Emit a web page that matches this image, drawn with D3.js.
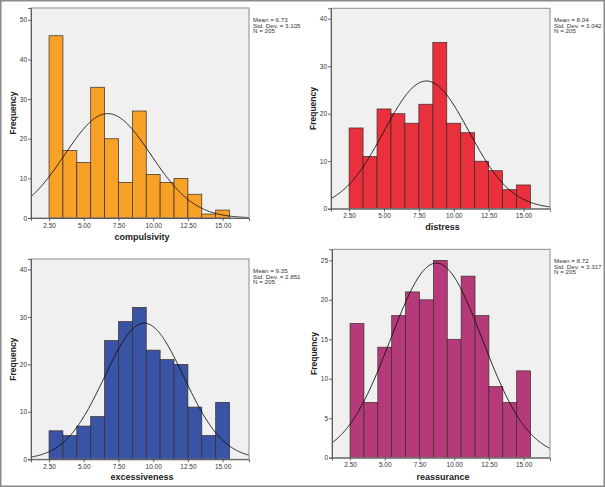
<!DOCTYPE html>
<html><head><meta charset="utf-8">
<script src="https://cdn.jsdelivr.net/npm/d3@7"></script>
<style>body{margin:0;background:#fff}svg{display:block;font-family:"Liberation Sans",Arial,sans-serif}</style>
</head><body><svg id="c" width="605" height="487"></svg>
<script>
// Data (bins of width 1, starting at 2.5)
const binStarts = [2.5,3.5,4.5,5.5,6.5,7.5,8.5,9.5,10.5,11.5,12.5,13.5,14.5];
const compulsivity = [46,17,14,33,20,9,27,11,9,10,6,1,2];
const distress = [17,11,21,20,18,22,35,18,16,10,8,4,5];
const excessiveness = [6,5,7,9,25,29,32,23,21,20,11,5,12];
const reassurance = [17,7,14,18,21,20,25,15,23,18,9,7,11];
const names = ["compulsivity","distress","excessiveness","reassurance"];
const means = [6.73, 8.04, 9.35, 8.72];
const sds = [3.105, 3.042, 2.851, 3.317];
const nObs = [205, 205, 205, 205];
const xTicks = [2.5,5,7.5,10,12.5,15];
const yTicksList = [[0,10,20,30,40,50],[0,10,20,30,40],[0,10,20,30,40],[0,5,10,15,20,25]];
const yMax = [53, 42.2, 42.2, 26.4];
const colors = ["#F7A126","#E8313C","#3A54A5","#B53A79"];
const series = [compulsivity, distress, excessiveness, reassurance];

// layout
const boxes = [
  {x0:31,x1:249,y0:8,y1:218,ly:239.5},
  {x0:331,x1:550,y0:8.3,y1:208.7,ly:229.5},
  {x0:31,x1:249,y0:259,y1:459.3,ly:480},
  {x0:332,x1:550,y0:249.3,y1:457.7,ly:480}
];
const svg = d3.select("#c");
svg.append("rect").attr("x",0.75).attr("y",0.75).attr("width",603.5).attr("height",485.5)
  .attr("fill","#fff").attr("stroke","#8a8a8a").attr("stroke-width",1.5);

series.forEach((vals,i)=>{
  const b = boxes[i];
  const x = d3.scaleLinear().domain([1.2,16.9]).range([b.x0,b.x1]);
  const y = d3.scaleLinear().domain([0,yMax[i]]).range([b.y1,b.y0]);
  const g = svg.append("g");
  const cid = "clip"+i;
  g.append("clipPath").attr("id",cid).append("rect")
    .attr("x",b.x0).attr("y",b.y0).attr("width",b.x1-b.x0).attr("height",b.y1-b.y0);
  g.append("rect").attr("x",b.x0).attr("y",b.y0).attr("width",b.x1-b.x0).attr("height",b.y1-b.y0)
    .attr("fill","#f0f0f0");
  g.selectAll("rect.bar").data(vals).join("rect").attr("class","bar")
    .attr("x",(d,j)=>x(binStarts[j])).attr("width",(d,j)=>x(binStarts[j]+1)-x(binStarts[j]))
    .attr("y",d=>y(d)).attr("height",d=>y(0)-y(d))
    .attr("fill",colors[i]).attr("stroke","#3b2a2a").attr("stroke-width",0.7);
  const pts = d3.range(1.2,16.95,0.05);
  const pdf = v => nObs[i]*1/(sds[i]*Math.sqrt(2*Math.PI))*Math.exp(-0.5*Math.pow((v-means[i])/sds[i],2));
  g.append("path").datum(pts).attr("clip-path",`url(#${cid})`)
    .attr("d",d3.line().x(d=>x(d)).y(d=>y(pdf(d))))
    .attr("fill","none").attr("stroke","#111").attr("stroke-width",0.9);
  g.append("rect").attr("x",b.x0).attr("y",b.y0).attr("width",b.x1-b.x0).attr("height",b.y1-b.y0)
    .attr("fill","none").attr("stroke","#8c8c8c").attr("stroke-width",1);
  const xa = g.append("g").attr("transform",`translate(0,${b.y1})`)
    .call(d3.axisBottom(x).tickValues(xTicks).tickFormat(d3.format(".2f")).tickSize(3).tickPadding(2));
  const ya = g.append("g").attr("transform",`translate(${b.x0},0)`)
    .call(d3.axisLeft(y).tickValues(yTicksList[i]).tickFormat(d3.format("d")).tickSize(3).tickPadding(1));
  [xa,ya].forEach(a=>{
    a.select(".domain").attr("stroke","#444").attr("stroke-width",0.8);
    a.selectAll(".tick line").attr("stroke","#444").attr("stroke-width",0.8);
    a.selectAll("text").attr("font-size",6.5).attr("fill","#333").attr("font-family","Liberation Sans, Arial, sans-serif");
  });
  g.append("text").attr("x",(b.x0+b.x1)/2+2).attr("y",b.ly)
    .attr("text-anchor","middle").attr("font-size",9).attr("font-weight","bold").attr("fill","#222")
    .text(names[i]);
  const fy = (b.y0+b.y1)/2;
  g.append("text").attr("transform",`translate(${b.x0-15},${fy}) rotate(-90)`)
    .attr("text-anchor","middle").attr("font-size",8.5).attr("font-weight","bold").attr("fill","#222")
    .text("Frequency");
  const st = g.append("text").attr("x",b.x1+4).attr("y",b.y0+14).attr("font-size",6.2).attr("fill","#333");
  ["Mean = "+means[i].toFixed(2),"Std. Dev. = "+sds[i].toFixed(3),"N = "+nObs[i]].forEach((t,k)=>{
    st.append("tspan").attr("x",b.x1+4).attr("dy",k?5.5:0).text(t);
  });
});
</script></body></html>
